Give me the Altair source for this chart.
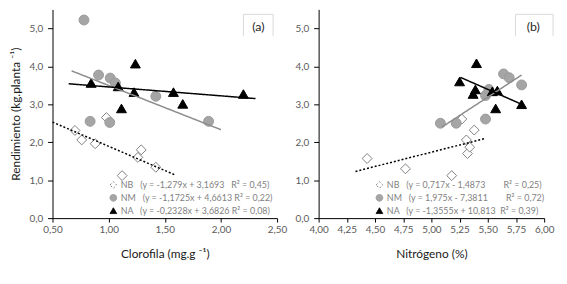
import altair as alt
import pandas as pd

series = ["NB", "NM", "NA"]

# ---- Panel (a): Clorofila ----
a_nb_x = [0.70, 0.76, 0.88, 0.98, 1.12, 1.26, 1.29, 1.42]
a_nb_y = [2.31, 2.06, 1.96, 2.65, 1.12, 1.60, 1.80, 1.34]
a_nm_x = [0.78, 0.835, 0.91, 1.01, 1.014, 1.06, 1.42, 1.89]
a_nm_y = [5.22, 2.55, 3.77, 2.52, 3.69, 3.56, 3.21, 2.55]
a_na_x = [0.844, 1.085, 1.114, 1.226, 1.238, 1.577, 1.66, 2.20]
a_na_y = [3.56, 3.47, 2.89, 3.32, 4.07, 3.32, 3.01, 3.27]
# fitted line end points (x0, x1, y0, y1) per series
a_fit_x0 = [0.50, 0.67, 0.644]
a_fit_x1 = [1.59, 2.00, 2.308]
a_fit_y0 = [2.53, 3.88, 3.54]
a_fit_y1 = [1.14, 2.33, 3.15]
a_eq = ["(y = -1,279x + 3,1693   R² = 0,45)",
        "(y = -1,1725x + 4,6613 R² = 0,22)",
        "(y = -0,2328x + 3,6826 R² = 0,08)"]

# ---- Panel (b): Nitrógeno ----
b_nb_x = [4.43, 4.77, 5.18, 5.27, 5.31, 5.32, 5.34, 5.38]
b_nb_y = [1.57, 1.30, 1.12, 2.61, 2.06, 1.70, 1.87, 2.32]
b_nm_x = [5.08, 5.22, 5.48, 5.48, 5.51, 5.64, 5.69, 5.80]
b_nm_y = [2.50, 2.50, 2.61, 3.23, 3.39, 3.80, 3.70, 3.51]
b_na_x = [5.25, 5.37, 5.39, 5.40, 5.54, 5.57, 5.585, 5.80]
b_na_y = [3.60, 3.27, 3.39, 4.08, 3.34, 2.89, 3.36, 3.00]
b_fit_x0 = [4.327, 5.094, 5.257]
b_fit_x1 = [5.48, 5.80, 5.796]
b_fit_y0 = [1.23, 2.40, 3.71]
b_fit_y1 = [2.10, 3.77, 3.005]
b_eq = ["(y = 0,717x - 1,4873        R² = 0,25)",
        "(y = 1,975x - 7,3811        R² = 0,72)",
        "(y = -1,3555x + 10,813  R² = 0,39)"]

FONT = "Lato"
NBSP = "\u00a0"


def points_df(xs_list, ys_list):
    rows = []
    for s, xs, ys in zip(series, xs_list, ys_list):
        for x, y in zip(xs, ys):
            rows.append({"series": s, "x": x, "y": y})
    return pd.DataFrame(rows)


def fit_df(x0, x1, y0, y1):
    rows = []
    for i, s in enumerate(series):
        rows.append({"series": s, "x": x0[i], "y": y0[i]})
        rows.append({"series": s, "x": x1[i], "y": y1[i]})
    return pd.DataFrame(rows)


def make_legend(lab_expr):
    return alt.Legend(title=None, orient="none", legendX=57, legendY=173,
                      labelExpr=lab_expr, symbolSize=45, labelFontSize=9,
                      labelColor="#7f7f7f", rowPadding=2, labelOffset=3,
                      symbolStrokeWidth=1, labelFont=FONT, padding=0)


def panel(pts, fits, xdom, xvals, xtitle, ytitle, eqs, label, box):
    lab_expr = ""
    for s, e in zip(series, eqs):
        txt = (s + "   " + e).replace(" ", NBSP)
        lab_expr += "datum.label == '%s' ? '%s' : " % (s, txt)
    lab_expr += "datum.label"

    xaxis = alt.Axis(values=xvals, title=xtitle, grid=False, labelOverlap=False, labelFlush=False,
                     labelExpr="replace(format(datum.value, '.2f'), '.', ',')",
                     tickSize=4, labelPadding=3, titlePadding=14)
    if ytitle:
        yaxis = alt.Axis(values=[0, 1, 2, 3, 4, 5], title=ytitle, grid=False, labelFlush=False,
                         labelExpr="replace(format(datum.value, '.1f'), '.', ',')",
                         tickSize=5, labelPadding=5, titlePadding=6)
    else:
        yaxis = alt.Axis(values=[0, 1, 2, 3, 4, 5], title=None, grid=False, labelFlush=False,
                         labelExpr="replace(format(datum.value, '.1f'), '.', ',')",
                         tickSize=5, labelPadding=5)
    x = alt.X("x:Q", scale=alt.Scale(domain=xdom, nice=False, zero=False), axis=xaxis)
    y = alt.Y("y:Q", scale=alt.Scale(domain=[0, 5.5], nice=False), axis=yaxis)

    lg = make_legend(lab_expr)
    points = alt.Chart(pts).mark_point(filled=True, size=100, opacity=1, strokeWidth=1).encode(
        x=x, y=y,
        shape=alt.Shape("series:N", scale=alt.Scale(domain=series, range=["diamond", "circle", "triangle-up"]),
                        legend=lg),
        fill=alt.Fill("series:N", scale=alt.Scale(domain=series, range=["#ffffff", "#a5a5a5", "#000000"]),
                      legend=lg),
        stroke=alt.Stroke("series:N", scale=alt.Scale(domain=series, range=["#7f7f7f", "#9a9a9a", "#000000"]),
                          legend=lg),
    )

    lines = alt.Chart(fits).mark_line(strokeWidth=1.5).encode(
        x=x, y=y,
        color=alt.Color("series:N", scale=alt.Scale(domain=series, range=["#000000", "#8c8c8c", "#000000"]),
                        legend=None),
        strokeDash=alt.StrokeDash("series:N", scale=alt.Scale(domain=series, range=[[2, 2], [1, 0], [1, 0]]),
                                  legend=None),
    )

    bx0, bx1, by0, by1, tx, ty = box
    dummy = alt.Chart(pd.DataFrame({"t": [label]}))
    r_left = dummy.mark_rule(color="#d9d9d9", strokeWidth=1).encode(
        x=alt.value(bx0), y=alt.value(by0), y2=alt.value(by1))
    r_top = dummy.mark_rule(color="#d9d9d9", strokeWidth=1).encode(
        x=alt.value(bx0), x2=alt.value(bx1), y=alt.value(by0))
    r_right = dummy.mark_rule(color="#d9d9d9", strokeWidth=1).encode(
        x=alt.value(bx1), y=alt.value(by0), y2=alt.value(by1))
    txt = dummy.mark_text(fontSize=12.5, color="#262626", font=FONT).encode(
        text="t:N", x=alt.value(tx), y=alt.value(ty))

    return alt.layer(points, lines, r_left, r_top, r_right, txt)


pts_a = points_df([a_nb_x, a_nm_x, a_na_x], [a_nb_y, a_nm_y, a_na_y])
fit_a = fit_df(a_fit_x0, a_fit_x1, a_fit_y0, a_fit_y1)
pts_b = points_df([b_nb_x, b_nm_x, b_na_x], [b_nb_y, b_nm_y, b_na_y])
fit_b = fit_df(b_fit_x0, b_fit_x1, b_fit_y0, b_fit_y1)

left = panel(pts_a, fit_a, [0.5, 2.5], [0.5, 1.0, 1.5, 2.0, 2.5],
             "Clorofila (mg.g ⁻¹)", "Rendimiento (kg.planta ⁻¹)", a_eq, "(a)",
             (193, 223, 5, 27, 208, 18)).properties(width=227, height=211)
right = panel(pts_b, fit_b, [4.0, 6.0], [4.0, 4.25, 4.5, 4.75, 5.0, 5.25, 5.5, 5.75, 6.0],
              "Nitrógeno (%)", None, b_eq, "(b)",
              (199, 237, 5, 27, 217, 18)).properties(width=228, height=211)

chart = alt.hconcat(left, right, spacing=42, bounds="flush").resolve_scale(
    x="independent", y="independent", shape="independent", fill="independent",
    stroke="independent", color="independent", strokeDash="independent"
).resolve_legend(shape="independent", fill="independent", stroke="independent").properties(
    padding={"left": 2, "top": 0, "right": 5, "bottom": 5},
).configure_view(stroke=None).configure_axis(
    domainColor="#000000", tickColor="#000000", labelColor="#595959", titleColor="#1a1a1a",
    labelFont=FONT, titleFont=FONT, labelFontSize=10, titleFontSize=12, titleFontWeight="normal",
    domainWidth=1, tickWidth=1,
)

chart.save("out.html", embed_options={"renderer": "svg", "actions": False})
